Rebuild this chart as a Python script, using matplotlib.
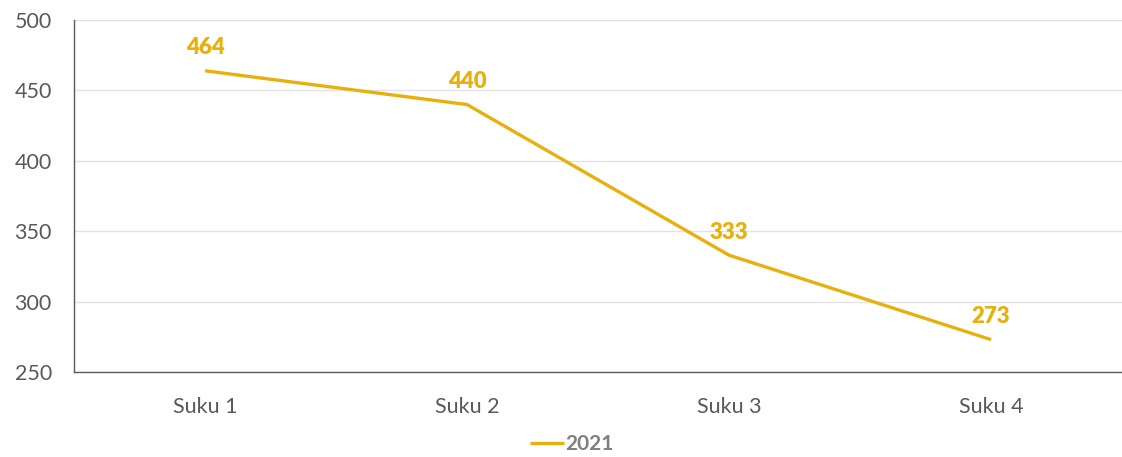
import matplotlib.pyplot as plt

categories = ['Suku 1', 'Suku 2', 'Suku 3', 'Suku 4']
values_2021 = [464, 440, 333, 273]
yticks = [250, 300, 350, 400, 450, 500]

gold = '#E8B00C'
plt.rcParams['font.family'] = ['Lato', 'DejaVu Sans']

fig = plt.figure(figsize=(11.22, 4.57), dpi=100)
ax = fig.add_axes([0.066, 0.186, 0.934, 0.770])

x = list(range(len(categories)))
ax.plot(x, values_2021, color=gold, linewidth=2.4, label='2021', solid_capstyle='butt')

# data labels
for xi, v in zip(x, values_2021):
    ax.annotate(str(v), (xi, v), xytext=(0, 9), textcoords='offset points',
                ha='center', va='bottom', fontsize=16, fontweight='heavy', color=gold)

ax.set_xlim(-0.5, 3.5)
ax.set_ylim(250, 500)
ax.set_yticks(yticks)
ax.set_xticks(x)
ax.set_xticklabels(categories)
ax.tick_params(axis='both', length=0, labelsize=15.5, colors='#595959')
ax.tick_params(axis='x', pad=18)
ax.tick_params(axis='y', pad=16)
ax.grid(axis='y', color='#E3E3E3', linewidth=1)
ax.set_axisbelow(True)
for s in ['top', 'right']:
    ax.spines[s].set_visible(False)
for s in ['left', 'bottom']:
    ax.spines[s].set_color('#595959')
    ax.spines[s].set_linewidth(1)

leg = fig.legend(loc='lower center', bbox_to_anchor=(0.51, -0.035), frameon=False,
                 prop={'size': 15, 'weight': 'bold'}, handlelength=1.6, handletextpad=0.1)
for t in leg.get_texts():
    t.set_color('#7F7F7F')

fig.savefig('out.png', dpi=100)
